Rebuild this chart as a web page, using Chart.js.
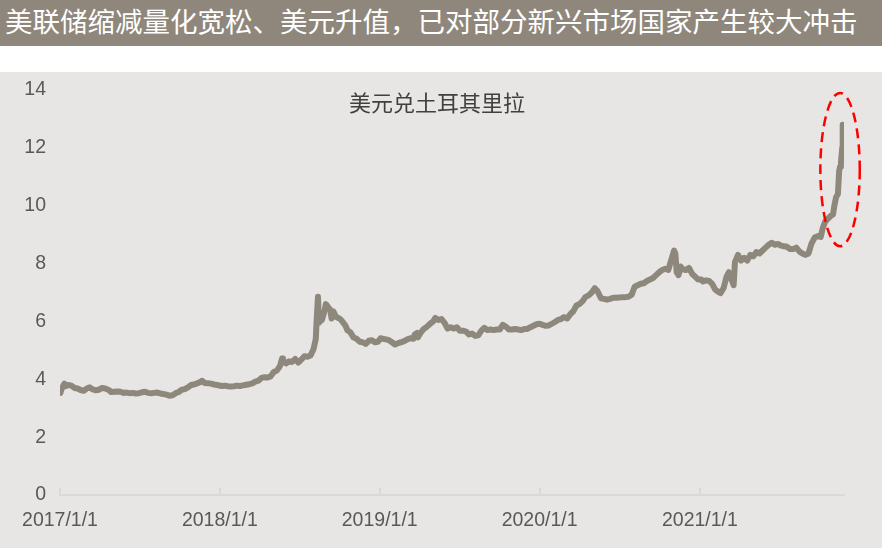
<!DOCTYPE html>
<html>
<head>
<meta charset="utf-8">
<script src="https://cdn.jsdelivr.net/npm/chart.js@4.4.1/dist/chart.umd.min.js"></script>
<style>
  body { margin: 0; width: 882px; height: 548px; background: #ffffff; overflow: hidden; }
  #head {
    height: 46px; line-height: 41px; background: #8f877c; color: #ffffff;
    font-family: "Noto Sans CJK SC", sans-serif; font-size: 27.5px;
    padding-left: 5px; white-space: nowrap;
  }
  #gap { height: 26px; background: #ffffff; }
  #box { width: 882px; height: 476px; background: #e8e6e4; }
</style>
</head>
<body>
<div id="head">美联储缩减量化宽松、美元升值，已对部分新兴市场国家产生较大冲击</div>
<div id="gap"></div>
<div id="box"><canvas id="myChart" width="882" height="476"></canvas></div>
<script>
// chart data
var chartTitle = "美元兑土耳其里拉";
var tickDates = ["2017-01-01", "2018-01-01", "2019-01-01", "2020-01-01", "2021-01-01"];
var tickLabels = ["2017/1/1", "2018/1/1", "2019/1/1", "2020/1/1", "2021/1/1"];
var axisEnd = "2021-11-26";
var yTicks = [0, 2, 4, 6, 8, 10, 12, 14];

var dates2017 = ["2017-01-02","2017-01-05","2017-01-11","2017-01-13","2017-01-20","2017-01-27","2017-02-03","2017-02-10","2017-02-17","2017-02-24","2017-03-03","2017-03-10","2017-03-17","2017-03-24","2017-03-31","2017-04-07","2017-04-14","2017-04-21","2017-04-28","2017-05-05","2017-05-12","2017-05-19","2017-05-26","2017-06-02","2017-06-09","2017-06-16","2017-06-23","2017-06-30","2017-07-07","2017-07-14","2017-07-21","2017-07-28","2017-08-04","2017-08-11","2017-08-18","2017-08-25","2017-09-01","2017-09-08","2017-09-15","2017-09-22","2017-09-29","2017-10-06","2017-10-13","2017-10-20","2017-10-27","2017-11-03","2017-11-10","2017-11-17","2017-11-21","2017-11-28","2017-12-05","2017-12-12","2017-12-19","2017-12-26"];
var rates2017 = [3.53,3.68,3.85,3.76,3.80,3.78,3.70,3.68,3.63,3.60,3.68,3.72,3.65,3.62,3.64,3.70,3.68,3.64,3.56,3.57,3.58,3.57,3.53,3.54,3.52,3.53,3.51,3.52,3.55,3.57,3.53,3.52,3.53,3.54,3.51,3.49,3.47,3.43,3.45,3.52,3.56,3.64,3.66,3.72,3.80,3.82,3.86,3.90,3.95,3.87,3.86,3.85,3.82,3.80];

var dates2018 = ["2018-01-05","2018-01-12","2018-01-19","2018-01-26","2018-02-02","2018-02-09","2018-02-16","2018-02-23","2018-03-02","2018-03-09","2018-03-16","2018-03-23","2018-03-30","2018-04-06","2018-04-13","2018-04-20","2018-04-27","2018-05-04","2018-05-11","2018-05-18","2018-05-23","2018-05-25","2018-06-01","2018-06-08","2018-06-15","2018-06-22","2018-06-29","2018-07-06","2018-07-13","2018-07-20","2018-07-27","2018-08-03","2018-08-08","2018-08-10","2018-08-13","2018-08-15","2018-08-17","2018-08-22","2018-08-27","2018-08-31","2018-09-05","2018-09-10","2018-09-13","2018-09-17","2018-09-24","2018-10-01","2018-10-05","2018-10-10","2018-10-15","2018-10-19","2018-10-26","2018-11-02","2018-11-09","2018-11-16","2018-11-23","2018-11-30","2018-12-07","2018-12-14","2018-12-21","2018-12-28"];
var rates2018 = [3.77,3.78,3.76,3.75,3.76,3.78,3.77,3.79,3.81,3.83,3.86,3.92,3.95,4.05,4.07,4.06,4.10,4.25,4.30,4.45,4.72,4.60,4.55,4.62,4.60,4.70,4.58,4.68,4.80,4.78,4.82,5.05,5.40,6.05,6.85,5.95,6.00,6.05,6.30,6.60,6.50,6.40,6.10,6.35,6.15,6.10,6.05,5.95,5.85,5.70,5.62,5.45,5.40,5.30,5.28,5.22,5.33,5.35,5.28,5.30];

var dates2019 = ["2019-01-03","2019-01-08","2019-01-15","2019-01-22","2019-01-29","2019-02-05","2019-02-12","2019-02-19","2019-02-26","2019-03-05","2019-03-12","2019-03-19","2019-03-22","2019-03-27","2019-03-29","2019-04-05","2019-04-12","2019-04-19","2019-04-26","2019-05-03","2019-05-08","2019-05-15","2019-05-22","2019-05-29","2019-06-05","2019-06-12","2019-06-19","2019-06-26","2019-07-03","2019-07-10","2019-07-17","2019-07-24","2019-07-31","2019-08-07","2019-08-14","2019-08-21","2019-08-28","2019-09-04","2019-09-11","2019-09-18","2019-09-25","2019-10-02","2019-10-09","2019-10-16","2019-10-23","2019-10-30","2019-11-06","2019-11-13","2019-11-20","2019-11-27","2019-12-04","2019-12-11","2019-12-18","2019-12-25"];
var rates2019 = [5.42,5.40,5.38,5.35,5.28,5.20,5.25,5.28,5.32,5.38,5.42,5.40,5.55,5.60,5.45,5.62,5.75,5.82,5.92,6.00,6.12,6.05,6.08,5.95,5.75,5.80,5.75,5.80,5.68,5.68,5.65,5.55,5.58,5.50,5.52,5.68,5.78,5.70,5.72,5.70,5.72,5.72,5.88,5.82,5.72,5.72,5.74,5.72,5.70,5.74,5.74,5.80,5.85,5.90];

var dates2020 = ["2020-01-01","2020-01-08","2020-01-15","2020-01-22","2020-01-29","2020-02-05","2020-02-12","2020-02-19","2020-02-26","2020-03-04","2020-03-11","2020-03-18","2020-03-25","2020-04-01","2020-04-08","2020-04-15","2020-04-22","2020-04-29","2020-05-06","2020-05-12","2020-05-20","2020-05-27","2020-06-03","2020-06-10","2020-06-17","2020-06-24","2020-07-01","2020-07-08","2020-07-15","2020-07-22","2020-07-29","2020-08-05","2020-08-12","2020-08-19","2020-08-26","2020-09-02","2020-09-09","2020-09-16","2020-09-23","2020-09-30","2020-10-07","2020-10-14","2020-10-21","2020-10-28","2020-11-03","2020-11-06","2020-11-09","2020-11-13","2020-11-18","2020-11-23","2020-11-30","2020-12-07","2020-12-14","2020-12-21","2020-12-28"];
var rates2020 = [5.92,5.88,5.85,5.86,5.92,5.98,6.05,6.08,6.15,6.10,6.25,6.35,6.55,6.60,6.70,6.85,6.90,7.00,7.15,7.05,6.80,6.78,6.75,6.78,6.82,6.82,6.83,6.84,6.84,6.85,6.92,7.20,7.25,7.30,7.32,7.40,7.45,7.50,7.60,7.70,7.78,7.82,7.78,8.15,8.45,8.35,7.70,7.60,7.90,7.80,7.78,7.85,7.65,7.55,7.45];

var dates2021 = ["2021-01-04","2021-01-08","2021-01-15","2021-01-22","2021-01-29","2021-02-05","2021-02-12","2021-02-17","2021-02-24","2021-03-03","2021-03-08","2021-03-12","2021-03-19","2021-03-22","2021-03-29","2021-04-05","2021-04-12","2021-04-19","2021-04-26","2021-05-03","2021-05-10","2021-05-17","2021-05-24","2021-05-31","2021-06-07","2021-06-14","2021-06-21","2021-06-28","2021-07-05","2021-07-12","2021-07-19","2021-07-26","2021-08-02","2021-08-09","2021-08-16","2021-08-23","2021-08-30","2021-09-06","2021-09-13","2021-09-20","2021-09-27","2021-10-04","2021-10-08","2021-10-14","2021-10-20","2021-10-27","2021-11-01","2021-11-04","2021-11-08","2021-11-12","2021-11-15","2021-11-17","2021-11-19","2021-11-22","2021-11-23"];
var rates2021 = [7.45,7.38,7.42,7.40,7.30,7.10,7.02,6.98,7.15,7.55,7.70,7.55,7.25,8.05,8.30,8.10,8.20,8.10,8.30,8.25,8.40,8.35,8.45,8.55,8.65,8.72,8.65,8.68,8.62,8.60,8.58,8.50,8.50,8.55,8.42,8.35,8.30,8.35,8.70,8.90,8.95,8.92,9.20,9.45,9.55,9.65,9.70,10.00,10.30,10.40,11.20,11.35,11.50,12.00,12.80];

// dashed ring around the last spike, in data units
var ringCenterDate = "2021-11-17";
var ringCenterValue = 11.25;
var ringHalfDays = 45;
var ringHalfValue = 2.65;

var day0 = Date.UTC(2017, 0, 1);
function toDay(s) {
  var p = s.split("-");
  return (Date.UTC(+p[0], +p[1] - 1, +p[2]) - day0) / 86400000;
}

var allDates = dates2017.concat(dates2018, dates2019, dates2020, dates2021);
var allRates = rates2017.concat(rates2018, rates2019, rates2020, rates2021);
var points = [];
for (var i = 0; i < allDates.length; i++) {
  points.push({ x: toDay(allDates[i]), y: allRates[i] });
}
var tickDays = tickDates.map(toDay);

// small tick marks pointing up from the x axis
var upTicks = {
  id: "upTicks",
  afterDraw: function (chart) {
    var ctx = chart.ctx, xs = chart.scales.x, bottom = chart.chartArea.bottom;
    ctx.save();
    ctx.strokeStyle = "#d9d9d9";
    ctx.lineWidth = 2;
    tickDays.forEach(function (d) {
      var px = Math.round(xs.getPixelForValue(d));
      ctx.beginPath();
      ctx.moveTo(px, bottom);
      ctx.lineTo(px, bottom - 7);
      ctx.stroke();
    });
    ctx.restore();
  }
};

var innerTitle = {
  id: "innerTitle",
  afterDraw: function (chart) {
    var ctx = chart.ctx;
    ctx.save();
    ctx.fillStyle = "#404040";
    ctx.font = '22px "Noto Sans CJK SC", sans-serif';
    ctx.textAlign = "center";
    ctx.textBaseline = "middle";
    ctx.fillText(chartTitle, 437, 31);
    ctx.restore();
  }
};

var ring = {
  id: "ring",
  afterDatasetsDraw: function (chart) {
    var ctx = chart.ctx, xs = chart.scales.x, ys = chart.scales.y;
    var c = toDay(ringCenterDate);
    var cx = xs.getPixelForValue(c);
    var cy = ys.getPixelForValue(ringCenterValue);
    var rx = xs.getPixelForValue(c + ringHalfDays) - cx;
    var ry = cy - ys.getPixelForValue(ringCenterValue + ringHalfValue);
    ctx.save();
    ctx.strokeStyle = "#ff0000";
    ctx.lineWidth = 2.5;
    ctx.setLineDash([10, 6]);
    ctx.beginPath();
    ctx.ellipse(cx, cy, rx, ry, 0, 0, Math.PI * 2);
    ctx.stroke();
    ctx.restore();
  }
};

var ctx = document.getElementById("myChart").getContext("2d");
var myChart = new Chart(ctx, {
  type: "line",
  data: {
    datasets: [
      {
        data: points,
        borderColor: "#8e877b",
        borderWidth: 6,
        pointRadius: 0,
        tension: 0,
        fill: false,
        borderJoinStyle: "round",
        borderCapStyle: "round"
      }
    ]
  },
  options: {
    responsive: false,
    animation: false,
    devicePixelRatio: 1,
    layout: { padding: { top: 18, right: 38, left: 0, bottom: 0 } },
    plugins: { legend: { display: false }, tooltip: { enabled: false } },
    scales: {
      x: {
        type: "linear",
        min: 0,
        max: toDay(axisEnd),
        afterBuildTicks: function (scale) {
          scale.ticks = tickDays.map(function (d) { return { value: d }; });
        },
        afterFit: function (scale) { scale.height = 53; },
        grid: { display: false, drawTicks: false },
        border: { display: true, color: "#d9d9d9", width: 2 },
        ticks: {
          autoSkip: false,
          maxRotation: 0,
          padding: 14,
          color: "#595959",
          font: { family: "Liberation Sans", size: 19.5 },
          callback: function (value, index) { return tickLabels[index]; }
        }
      },
      y: {
        min: 0,
        max: 14,
        afterBuildTicks: function (scale) {
          scale.ticks = yTicks.map(function (v) { return { value: v }; });
        },
        afterFit: function (scale) {
          scale.width = 60;
          // let the layout padding alone decide the top edge
          scale.paddingTop = 0;
          scale.paddingBottom = 0;
        },
        grid: { display: false, drawTicks: false },
        border: { display: false },
        ticks: {
          padding: 14,
          color: "#595959",
          font: { family: "Liberation Sans", size: 19.5 }
        }
      }
    }
  },
  plugins: [upTicks, innerTitle, ring]
});
</script>
</body>
</html>
